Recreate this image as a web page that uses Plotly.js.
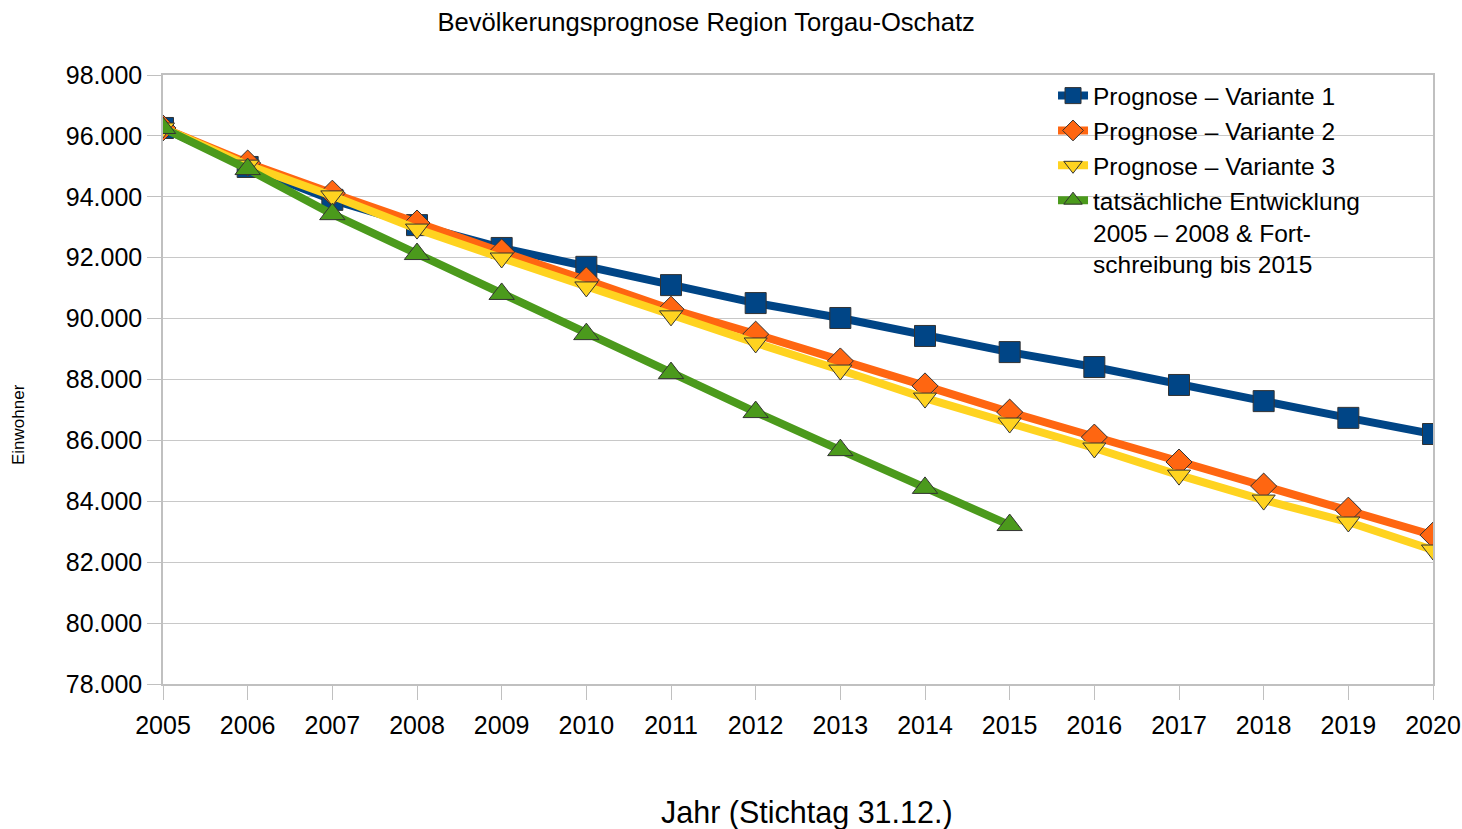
<!DOCTYPE html>
<html>
<head>
<meta charset="utf-8">
<script src="https://cdn.plot.ly/plotly-3.0.1.min.js"></script>
<style>html,body{margin:0;padding:0;background:#fff;}#chart{width:1462px;height:829px;}</style>
</head>
<body>
<div id="chart"></div>
<script>
const years = [2005,2006,2007,2008,2009,2010,2011,2012,2013,2014,2015,2016,2017,2018,2019,2020];
const yearsActual = [2005,2006,2007,2008,2009,2010,2011,2012,2013,2014,2015];
const variante1 = [96260,94980,93900,93070,92320,91700,91100,90510,90020,89430,88900,88410,87820,87290,86740,86210];
const variante2 = [96260,95110,94120,93140,92190,91270,90310,89490,88610,87790,86930,86110,85290,84500,83710,82890];
const variante3 = [96260,95040,94030,92940,91990,91040,90090,89200,88310,87390,86570,85750,84860,84040,83320,82400];
const tatsaechlich = [96260,94910,93430,92120,90810,89490,88210,86930,85680,84440,83220];
const names = ["Prognose – Variante 1","Prognose – Variante 2","Prognose – Variante 3","tatsächliche Entwicklung<br>2005 – 2008 & Fort-<br>schreibung bis 2015"];
const tickVals = [78000,80000,82000,84000,86000,88000,90000,92000,94000,96000,98000];

const font = "Liberation Sans, Arial, sans-serif";
const mk = (x,y,name,color,symbol,size) => ({
  x:x, y:y, name:name, type:'scatter', mode:'lines+markers',
  line:{color:color,width:8},
  marker:{symbol:symbol,size:size,color:color,line:{color:'#333',width:1}}
});
const data = [
  mk(years,variante1,names[0],'#004586','square',21),
  mk(years,variante2,names[1],'#ff6611','diamond',20),
  mk(years,variante3,names[2],'#ffd320','triangle-down',20),
  mk(yearsActual,tatsaechlich,names[3],'#4b9a1c','triangle-up',22)
];
const layout = {
  width:1462, height:829,
  paper_bgcolor:'#fff', plot_bgcolor:'#fff',
  separators:',.',
  font:{family:font,color:'#000'},
  margin:{l:163,r:29,t:75,b:145},
  title:{text:'Bevölkerungsprognose Region Torgau-Oschatz',font:{size:25.6,family:font},x:0.483,xanchor:'center',y:0.9735,yanchor:'middle'},
  xaxis:{range:[2005,2020],tickvals:years,ticktext:years.map(String),tickfont:{size:25},
    showgrid:false,showline:true,linecolor:'#c0c0c0',linewidth:1.5,mirror:true,
    ticks:'outside',ticklen:14,tickcolor:'#c0c0c0',zeroline:false,ticklabelstandoff:4},
  yaxis:{range:[78000,98000],tickvals:tickVals,tickformat:',d',tickfont:{size:25},
    showgrid:true,gridcolor:'#c8c8c8',gridwidth:1.3,showline:true,linecolor:'#c0c0c0',linewidth:1.5,mirror:true,
    ticks:'outside',ticklen:14,tickcolor:'#c0c0c0',zeroline:false},
  annotations:[
    {text:'Jahr (Stichtag 31.12.)', xref:'paper', yref:'paper', x:(807-163)/1270, y:(684-812)/609,
      xanchor:'center', yanchor:'middle', showarrow:false, font:{size:30.5,family:font}},
    {text:'Einwohner', xref:'paper', yref:'paper', x:(18-163)/1270, y:(684-425)/609,
      xanchor:'center', yanchor:'middle', textangle:-90, showarrow:false, font:{size:17,family:font}}
  ],
  legend:{x:0.7008,y:1.003,xanchor:'left',yanchor:'top',bgcolor:'rgba(0,0,0,0)',valign:'top',
    font:{size:24.5,family:font},tracegroupgap:0,itemwidth:30},
  showlegend:true
};
Plotly.newPlot('chart',data,layout,{displayModeBar:false});
</script>
</body>
</html>
